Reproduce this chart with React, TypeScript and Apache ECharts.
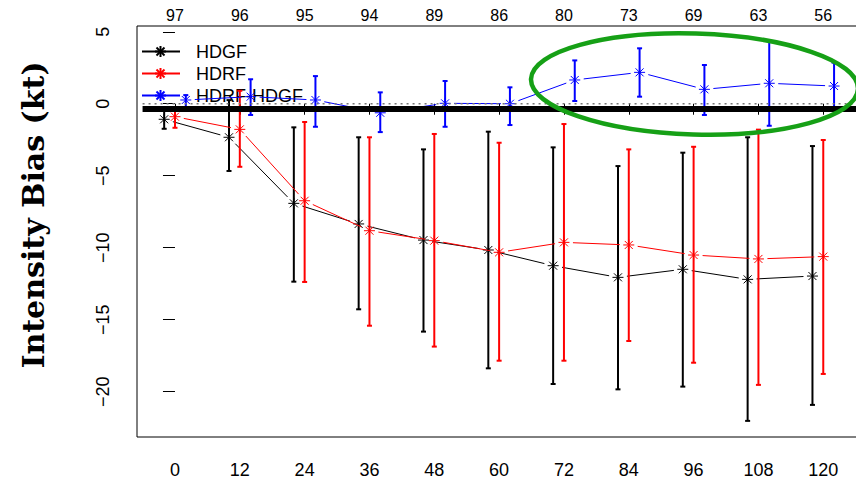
import React, { useEffect, useRef } from "react";
import * as echarts from "echarts";

const HOURS = [0, 12, 24, 36, 48, 60, 72, 84, 96, 108, 120];
const COUNTS = [97, 96, 95, 94, 89, 86, 80, 73, 69, 63, 56];

const HDGF_MEAN = [-1.08, -2.33, -6.92, -8.35, -9.47, -10.16, -11.25, -12.06, -11.5, -12.2, -11.97];
const HDGF_LOW = [-1.74, -4.67, -12.36, -14.28, -15.83, -18.38, -19.47, -19.84, -19.65, -22.03, -20.92];
const HDGF_HIGH = [-0.4, 0.25, -1.64, -2.33, -3.17, -1.94, -3.03, -4.33, -3.4, -2.33, -2.94];

const HDRF_MEAN = [-0.9, -1.78, -6.74, -8.82, -9.51, -10.32, -9.63, -9.81, -10.51, -10.78, -10.62];
const HDRF_LOW = [-1.67, -4.38, -12.38, -15.42, -16.87, -17.85, -17.85, -16.48, -17.99, -19.53, -18.77];
const HDRF_HIGH = [-0.3, 0.9, -1.27, -2.33, -2.1, -2.71, -1.41, -3.17, -2.99, -1.8, -2.52];

const DIFF_MEAN = [0.26, 0.49, 0.26, -0.63, 0.03, 0.0, 1.65, 2.18, 1.0, 1.42, 1.23];
const DIFF_LOW = [-0.3, -0.78, -1.6, -1.97, -1.6, -1.48, 0.19, 0.49, -0.78, -1.53, -0.4];
const DIFF_HIGH = [0.6, 1.7, 1.92, 0.79, 1.58, 1.14, 3.01, 3.85, 2.69, 4.38, 2.85];

const Y_TICKS = [-20, -15, -10, -5, 0, 5];
const REF_LEVEL = -0.37;
const ZERO_LEVEL = 0;
const REF_X = [-6, 140];

const SERIES_NAMES = ["HDGF", "HDRF", "HDRF-HDGF"];
const SERIES_COLORS = ["#000000", "#ff0000", "#0000ff"];
const SERIES_OFFSETS = [-2, 0, 2];

const FONT = "Liberation Sans";

function ln(x1: number, y1: number, x2: number, y2: number, color: string, lw: number) {
  return {
    type: "line",
    shape: { x1, y1, x2, y2 },
    style: { stroke: color, lineWidth: lw, fill: null },
  };
}

function star(cx: number, cy: number, r: number, d: number, color: string, lw: number) {
  return [
    ln(cx - r, cy, cx + r, cy, color, lw),
    ln(cx, cy - r, cx, cy + r, color, lw),
    ln(cx - d, cy - d, cx + d, cy + d, color, lw),
    ln(cx - d, cy + d, cx + d, cy - d, color, lw),
  ];
}

function makeSeries(idx: number, mean: number[], low: number[], high: number[]) {
  const color = SERIES_COLORS[idx];
  const xs = HOURS.map((h) => h + SERIES_OFFSETS[idx]);
  return {
    type: "custom",
    name: SERIES_NAMES[idx],
    z: 2,
    data: xs.map((x, i) => [x, mean[i], low[i], high[i]]),
    encode: { x: 0, y: [1, 2, 3] },
    renderItem: (params: any, api: any) => {
      const i = params.dataIndex;
      const x = api.value(0);
      const p = api.coord([x, api.value(1)]);
      const lo = api.coord([x, api.value(2)]);
      const hi = api.coord([x, api.value(3)]);
      const children: any[] = [];
      children.push(ln(p[0], hi[1], p[0], lo[1], color, 2));
      children.push(ln(p[0] - 2.5, hi[1], p[0] + 2.5, hi[1], color, 2));
      children.push(ln(p[0] - 2.5, lo[1], p[0] + 2.5, lo[1], color, 2));
      if (i < xs.length - 1) {
        const q = api.coord([xs[i + 1], mean[i + 1]]);
        const dx = q[0] - p[0];
        const dy = q[1] - p[1];
        const len = Math.sqrt(dx * dx + dy * dy);
        const gap = 9;
        if (len > 2 * gap) {
          const ux = dx / len;
          const uy = dy / len;
          children.push(ln(p[0] + ux * gap, p[1] + uy * gap, q[0] - ux * gap, q[1] - uy * gap, color, 1));
        }
      }
      children.push(...star(p[0], p[1], 5.5, 4, color, 1));
      return { type: "group", children };
    },
  };
}

function legendGraphic() {
  const rows = [51.5, 73.5, 95.5];
  const children: any[] = [];
  SERIES_NAMES.forEach((name, i) => {
    const y = rows[i];
    const c = SERIES_COLORS[i];
    children.push(ln(142, y, 180, y, c, 2));
    children.push(...star(160.5, y, 5.5, 4, c, 2));
    children.push({
      type: "text",
      x: 196,
      y,
      style: {
        text: name,
        fill: "#000",
        fontSize: 18,
        fontFamily: FONT,
        align: "left",
        verticalAlign: "middle",
      },
    });
  });
  return { type: "group", z: 1, children };
}

export default function App() {
  const ref = useRef<HTMLDivElement>(null);
  useEffect(() => {
    if (!ref.current) return;
    const chart = echarts.init(ref.current, null, { renderer: "svg" });
    const fmtY = (v: number) => (v < 0 ? "\u2212" + Math.abs(v) : String(v));
    chart.setOption({
      animation: false,
      backgroundColor: "#ffffff",
      grid: {
        left: 137,
        top: 26,
        width: 721,
        height: 411,
        show: true,
        borderColor: "#000",
        borderWidth: 1,
        backgroundColor: "transparent",
        containLabel: false,
        outerBoundsMode: "none",
      },
      xAxis: [
        {
          type: "value",
          position: "bottom",
          min: -7.03,
          max: 126.43,
          axisLine: { show: false },
          splitLine: { show: false },
          axisTick: {
            show: true,
            length: 11,
            customValues: HOURS,
            lineStyle: { color: "#000", width: 1 },
          },
          axisLabel: {
            customValues: HOURS,
            fontSize: 18,
            fontFamily: FONT,
            color: "#000",
            margin: 24,
          },
        },
        {
          type: "value",
          position: "top",
          min: -7.03,
          max: 126.43,
          axisLine: { show: false },
          splitLine: { show: false },
          axisTick: { show: false },
          axisLabel: {
            customValues: HOURS,
            fontSize: 16,
            fontFamily: FONT,
            color: "#000",
            margin: 3,
            formatter: (v: number) => String(COUNTS[HOURS.indexOf(v)]),
          },
        },
      ],
      yAxis: {
        type: "value",
        min: -23.15,
        max: 5.4,
        axisLine: { show: false },
        splitLine: { show: false },
        axisTick: {
          show: true,
          length: 12,
          customValues: Y_TICKS,
          lineStyle: { color: "#000", width: 1 },
        },
        axisLabel: {
          customValues: Y_TICKS,
          rotate: 90,
          fontSize: 18,
          fontFamily: FONT,
          color: "#000",
          margin: 25,
          formatter: fmtY,
        },
      },
      series: [
        makeSeries(0, HDGF_MEAN, HDGF_LOW, HDGF_HIGH),
        makeSeries(1, HDRF_MEAN, HDRF_LOW, HDRF_HIGH),
        makeSeries(2, DIFF_MEAN, DIFF_LOW, DIFF_HIGH),
        {
          type: "line",
          name: "zero",
          z: 3,
          symbol: "none",
          data: REF_X.map((x) => [x, ZERO_LEVEL]),
          lineStyle: { color: "#777", width: 1.5, type: [2, 4] },
        },
        {
          type: "line",
          name: "ref",
          z: 4,
          symbol: "none",
          data: REF_X.map((x) => [x, REF_LEVEL]),
          lineStyle: { color: "#000", width: 6 },
        },
      ],
      graphic: [
        legendGraphic(),
        {
          type: "ellipse",
          z: 100,
          x: 694.5,
          y: 84,
          rotation: -0.03,
          shape: { cx: 0, cy: 0, rx: 163.5, ry: 50.5 },
          style: { fill: null, stroke: "#16a016", lineWidth: 4.5 },
        },
        {
          type: "text",
          z: 100,
          x: 33.5,
          y: 215,
          rotation: Math.PI / 2,
          style: {
            text: "Intensity Bias (kt)",
            fill: "#000",
            fontSize: 30,
            fontWeight: "bold",
            fontFamily: "DejaVu Serif",
            align: "center",
            verticalAlign: "middle",
          },
        },
      ],
    });
    return () => chart.dispose();
  }, []);
  return (
    <div
      ref={ref}
      style={{ position: "fixed", left: 0, top: 0, width: 856, height: 480, background: "#fff" }}
    />
  );
}
